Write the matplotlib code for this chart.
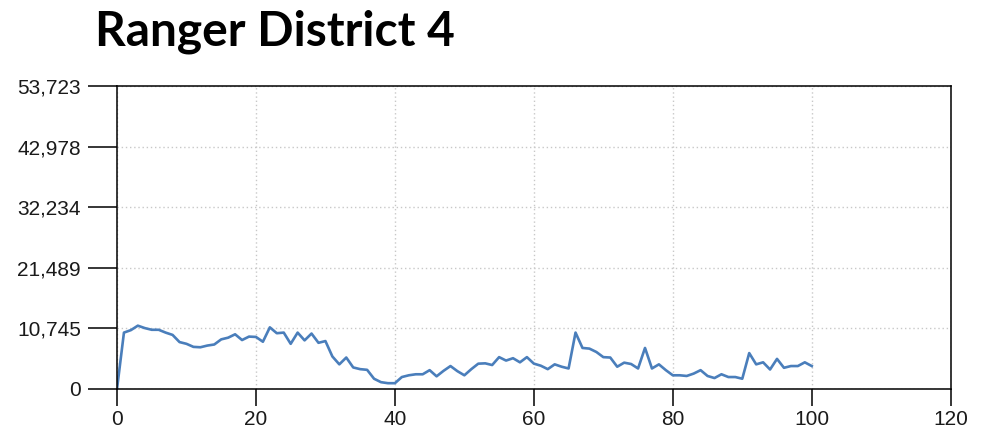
import matplotlib
matplotlib.use("Agg")
import matplotlib.pyplot as plt
from matplotlib.ticker import FixedLocator, FuncFormatter

title = "Ranger District 4"
x_values = list(range(0, 101))
y_values = [
    0, 10000, 10440, 11230, 10800, 10500, 10500, 10000, 9590, 8320,
    8010, 7470, 7400, 7700, 7890, 8800, 9100, 9700, 8680, 9290,
    9230, 8380, 10930, 9890, 10000, 8010, 10000, 8620, 9830, 8190,
    8500, 5770, 4370, 5580, 3820, 3520, 3400, 1820, 1210, 1030,
    1030, 2120, 2430, 2610, 2610, 3340, 2250, 3220, 4070, 3160,
    2430, 3520, 4490, 4550, 4250, 5650, 5040, 5460, 4730, 5650,
    4500, 4130, 3520, 4370, 3950, 3640, 10000, 7280, 7160, 6560,
    5650, 5580, 3950, 4670, 4430, 3640, 7280, 3640, 4370, 3340,
    2430, 2430, 2310, 2730, 3340, 2310, 1940, 2610, 2120, 2120,
    1820, 6370, 4370, 4730, 3460, 5340, 3760, 4070, 4070, 4730,
    4070,
]
x_ticks = [0, 20, 40, 60, 80, 100, 120]
y_ticks = [0, 10745, 21489, 32234, 42978, 53723]

fig = plt.figure(figsize=(9.88, 4.32), dpi=100)
ax = fig.add_axes([117 / 988, 1 - 389 / 432, (950.7 - 117) / 988, (389 - 86) / 432])

ax.plot(x_values, y_values, color="#4a7ebb", linewidth=1.9, solid_joinstyle="round")

ax.set_xlim(0, 120)
ax.set_ylim(0, 53723)
ax.xaxis.set_major_locator(FixedLocator(x_ticks))
ax.yaxis.set_major_locator(FixedLocator(y_ticks))
ax.yaxis.set_major_formatter(FuncFormatter(lambda v, p: f"{int(round(v)):,}"))

ax.grid(True, color="#c8c8c8", linestyle=(0, (1, 2)), linewidth=1.0)
for s in ax.spines.values():
    s.set_color("#000000")
    s.set_linewidth(1.1)

ax.tick_params(axis="y", length=21, width=1.1, pad=5, color="black",
               labelsize=15, labelcolor="#1a1a1a")
ax.tick_params(axis="x", length=12, width=1.1, pad=3, color="black",
               labelsize=15, labelcolor="#1a1a1a")
for lbl in ax.get_xticklabels() + ax.get_yticklabels():
    lbl.set_fontfamily("Liberation Sans")

fig.text(95 / 988, 1 - 45 / 432, title, fontsize=34.5, fontweight="bold",
         family="Lato", ha="left", va="baseline", color="black")

fig.savefig("out.png", dpi=100)
